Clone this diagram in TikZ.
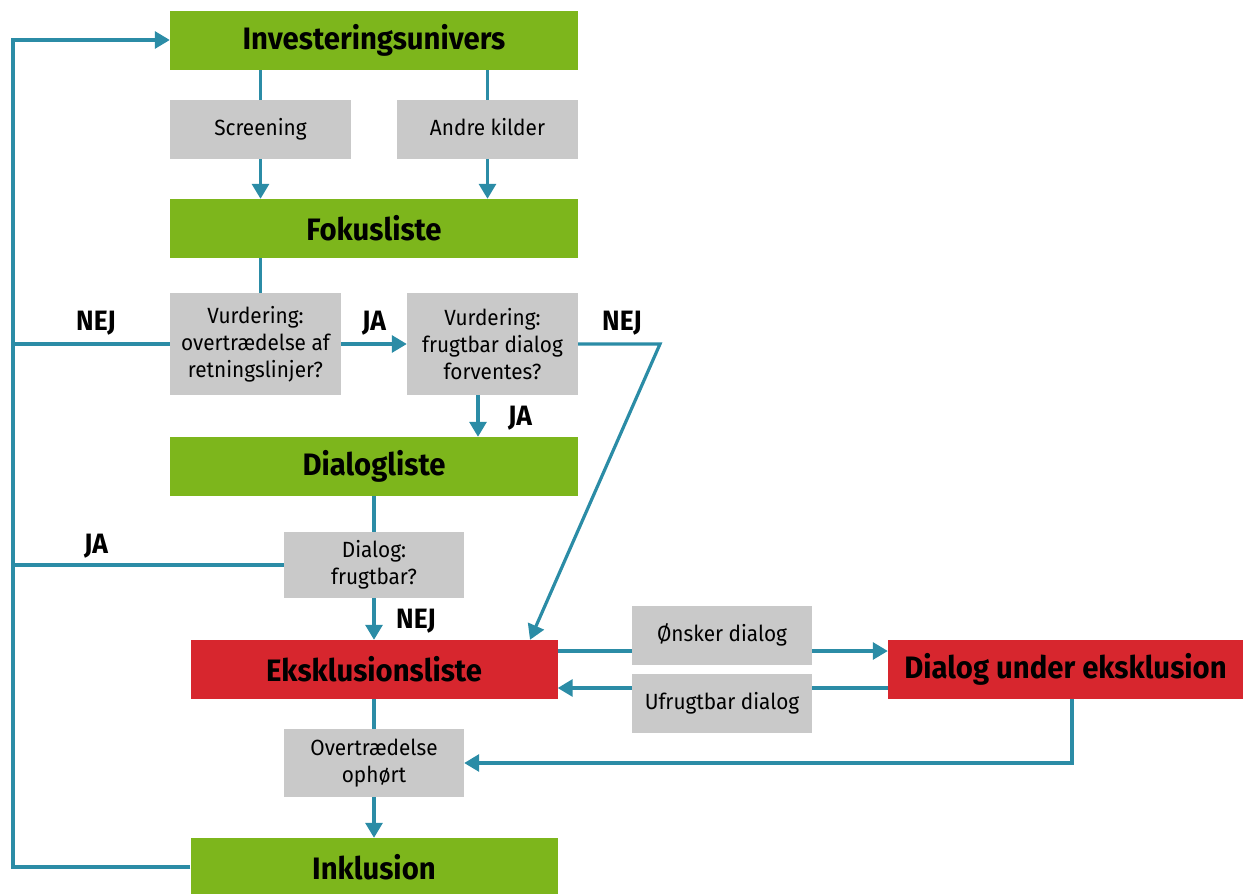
\documentclass[tikz,border=0pt]{standalone}
\usepackage{fontspec}
\setmainfont{Fira Sans}[FakeStretch=0.945]
\usetikzlibrary{arrows.meta,backgrounds}
\definecolor{grn}{HTML}{7DB61C}
\definecolor{rd}{HTML}{D7262E}
\definecolor{gry}{HTML}{C9C9C9}
\definecolor{lnc}{HTML}{2B8CA6}
\begin{document}
\begin{tikzpicture}[x=1pt,y=-1pt,
  box/.style={inner sep=0pt, minimum height=59pt, text=black, align=center},
  bigbox/.style={box, minimum width=408pt, font=\bfseries\fontsize{31}{36}\selectfont},
  grnbox/.style={bigbox, fill=grn},
  redbox/.style={bigbox, fill=rd, minimum width=367pt},
  gbox/.style={box, fill=gry, minimum width=181pt, font=\fontsize{22}{27}\selectfont},
  oneline/.style={text height=16pt, text depth=5pt},
  conn/.style={draw=lnc, line width=3.2pt},
  arr/.style={conn, -{Triangle[width=17pt,length=15pt]}},
  lbl/.style={font=\bfseries\fontsize{28}{32}\selectfont, text=black, inner sep=0pt}]
\useasboundingbox (0,0) rectangle (1243,894);
\node[grnbox] (inv) at (374,40) {Investeringsunivers};
\node[gbox, oneline] (scr) at (260.5,129.5) {Screening};
\node[gbox, oneline] (andre) at (487.5,129.5) {Andre kilder};
\node[grnbox] (fok) at (374,228.5) {Fokusliste};
\node[gbox, minimum width=171pt, minimum height=102pt] (v1) at (255.5,344) {Vurdering:\\overtrædelse af\\retningslinjer?};
\node[gbox, minimum width=171pt, minimum height=102pt] (v2) at (492.5,344) {Vurdering:\\frugtbar dialog\\forventes?};
\node[grnbox] (dia) at (374,466.5) {Dialogliste};
\node[gbox, minimum width=180pt, minimum height=66pt] (dfr) at (374,565) {Dialog:\\frugtbar?};
\node[redbox] (eks) at (374,669.5) {Eksklusionsliste};
\node[gbox, oneline, minimum width=180pt] (ons) at (722,635.5) {Ønsker dialog};
\node[gbox, oneline, minimum width=180pt] (ufr) at (722,703.5) {Ufrugtbar dialog};
\node[redbox, minimum width=355pt] (due) at (1065.5,669.5) {Dialog under eksklusion};
\node[gbox, minimum width=180pt, minimum height=68pt] (ovr) at (374,763) {Overtrædelse\\ophørt};
\node[grnbox, minimum width=367pt, minimum height=58pt] (ink) at (374,867) {Inklusion};
\coordinate (L) at (13,40);
\coordinate (nk) at (660,344);
\node[lbl] (nej1) at (96,323) {NEJ};
\node[lbl] (ja1) at (374,323) {JA};
\node[lbl] (nej2) at (622,323) {NEJ};
\node[lbl] (ja2) at (520,418) {JA};
\node[lbl] (ja3) at (96,546) {JA};
\node[lbl] (nej3) at (416,621) {NEJ};
\begin{scope}[on background layer]
\draw[conn] (inv.south -| scr) -- (scr.north);
\draw[conn] (inv.south -| andre) -- (andre.north);
\draw[arr] (scr.south) -- (fok.north -| scr);
\draw[arr] (andre.south) -- (fok.north -| andre);
\draw[conn] (fok.south -| scr) -- (v1.north -| scr);
\draw[arr] (v1.east) -- (v2.west);
\draw[conn] (v1.west) -- (v1.west -| L);
\draw[arr] (v2.east) -- (nk) -- ([xshift=156pt]eks.north);
\draw[arr] ([xshift=-14.5pt]v2.south) -- ([xshift=-14.5pt]v2.south |- dia.north);
\draw[conn] (dia.south) -- (dfr.north);
\draw[conn] (dfr.west) -- (dfr.west -| L);
\draw[arr] (dfr.south) -- (eks.north);
\draw[arr] ([yshift=18.5pt]eks.east) -- ([yshift=18.5pt]due.west);
\draw[arr] ([yshift=-18.5pt]due.west) -- ([yshift=-18.5pt]eks.east);
\draw[conn] (eks.south) -- (ovr.north);
\draw[arr] ([xshift=6.5pt]due.south) |- (ovr.east);
\draw[arr] (ovr.south) -- (ink.north);
\draw[arr] (ink.west) -| (L) -- (inv.west);
\end{scope}
\end{tikzpicture}
\end{document}
